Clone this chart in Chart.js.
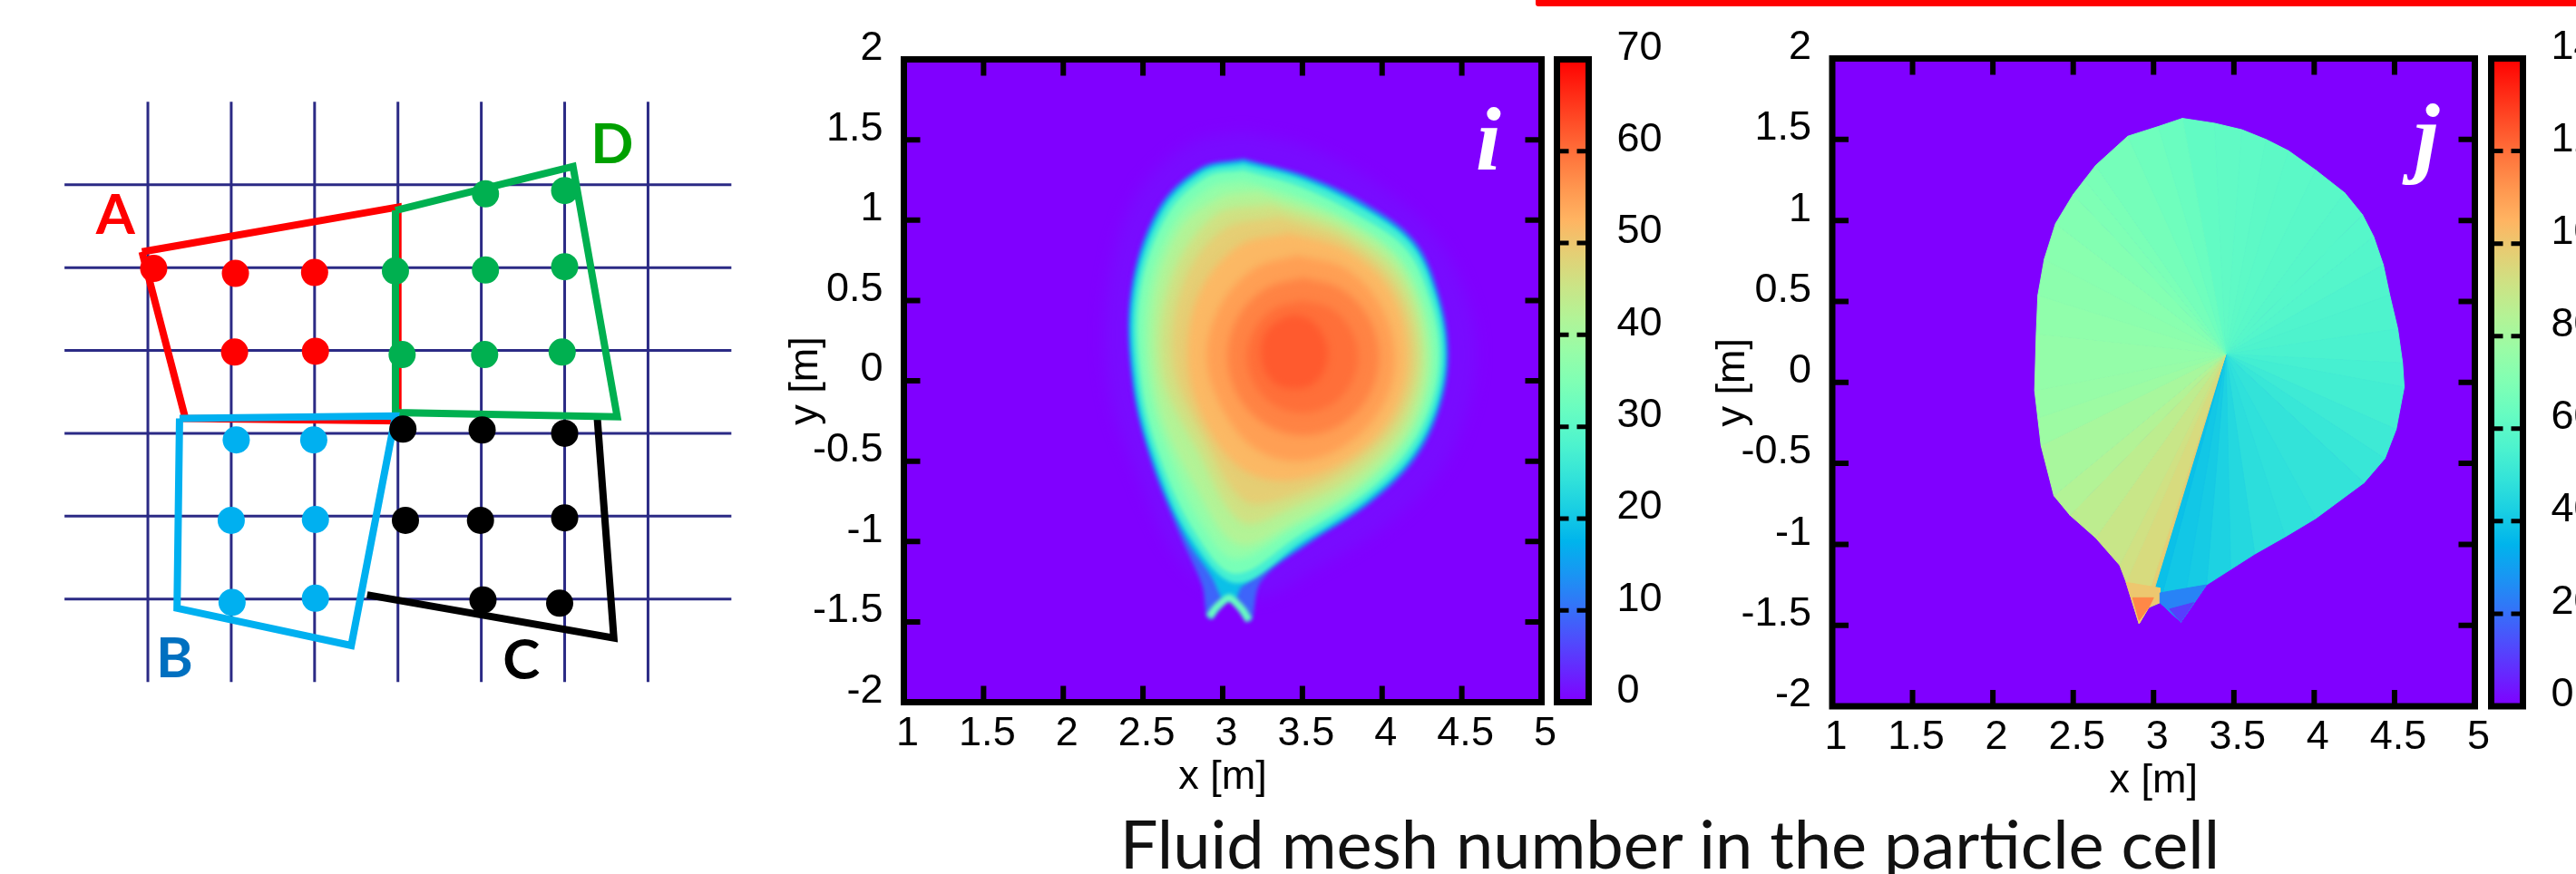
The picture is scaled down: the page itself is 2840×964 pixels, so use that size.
<!DOCTYPE html>
<html>
<head>
<meta charset="utf-8">
<title>Fluid mesh number in the particle cell</title>
<script src="https://cdn.jsdelivr.net/npm/chart.js@4"></script>
<style>
    html, body { margin: 0; width: 2840px; height: 964px; overflow: hidden; background: #fff; }
    canvas { position: absolute; }
    #redline { position: absolute; left: 1693px; top: -3px; width: 1200px; height: 10px; background: #ff0000; border-radius: 3px; }
    #caption { position: absolute; left: 1041px; width: 1600px; top: 885px; text-align: center; white-space: nowrap;
               font: 74px Lato, sans-serif; color: #111; }
</style>
</head>
<body>
<div id="redline"></div>
<canvas id="mesh" width="860" height="964" style="left:0;top:0"></canvas>
<canvas id="mapI" width="870" height="964" style="left:860px;top:0"></canvas>
<canvas id="barI" width="200" height="964" style="left:1700px;top:0"></canvas>
<canvas id="mapJ" width="870" height="964" style="left:1880px;top:0"></canvas>
<canvas id="barJ" width="200" height="964" style="left:2730px;top:0"></canvas>
<div id="caption">Fluid mesh number in the particle cell</div>

<script>
// --- schematic: grid units, one unit = one mesh spacing
const gridCols = [0, 1, 2, 3, 4, 5, 6];
const gridRows = [0, 1, 2, 3, 4, 5];
const redCell = [[-0.07, 0.81], [3.0, 0.27], [3.0, 2.85], [0.45, 2.82], [-0.07, 0.81]];
const greenCell = [[2.97, 0.31], [5.1, -0.22], [5.63, 2.8], [2.97, 2.75], [2.97, 0.31]];
const blueCell = [[0.38, 2.82], [2.97, 2.79], [2.44, 5.56], [0.35, 5.11], [0.38, 2.82]];
const blackCell = [[5.39, 2.8], [5.59, 5.47], [2.63, 4.95]];
const redDots = [[0.07, 1.01], [1.05, 1.07], [2.0, 1.06], [1.04, 2.02], [2.01, 2.01]];
const greenDots = [[2.97, 1.04], [4.05, 1.03], [5.0, 0.99], [4.05, 0.11], [5.0, 0.07], [3.05, 2.05], [4.04, 2.05], [4.97, 2.02]];
const blackDots = [[3.06, 2.95], [4.01, 2.96], [5.0, 3.0], [3.09, 4.05], [3.99, 4.05], [5.0, 4.02], [4.02, 5.01], [4.94, 5.05]];
const blueDots = [[1.06, 3.08], [1.99, 3.08], [1.0, 4.05], [2.01, 4.04], [1.01, 5.04], [2.01, 4.99]];
const cellNames = ['A', 'B', 'C', 'D'];
const cellNameSpots = [[-0.39, 0.38], [0.32, 5.73], [4.48, 5.75], [5.57, -0.48]];

// --- axes of the two maps
const xTicks = [1, 1.5, 2, 2.5, 3, 3.5, 4, 4.5, 5];
const yTicks = [-2, -1.5, -1, -0.5, 0, 0.5, 1, 1.5, 2];
const barTicksI = [0, 10, 20, 30, 40, 50, 60, 70];
const barTicksJ = [0, 20, 40, 60, 80, 100, 120, 140];

// --- map i: iso-contours, [x, y] in metres
const ringHalo = [[3.13, 1.55], [3.55, 1.45], [3.98, 1.22], [4.32, 0.92], [4.52, 0.55], [4.59, 0.18], [4.53, -0.2], [4.35, -0.58], [4.02, -0.9], [3.58, -1.17], [3.2, -1.35], [2.78, -1.18], [2.45, -0.55], [2.28, -0.02], [2.28, 0.6], [2.45, 1.15], [2.8, 1.48], [3.13, 1.55]];
const ring10 = [[3.13, 1.385], [3.52, 1.28], [3.91, 1.1], [4.21, 0.87], [4.36, 0.54], [4.42, 0.18], [4.37, -0.16], [4.21, -0.49], [3.92, -0.77], [3.52, -1.03], [3.24, -1.25], [3.17, -1.5], [3.04, -1.37], [2.915, -1.485], [2.87, -1.27], [2.74, -0.98], [2.55, -0.51], [2.43, -0.02], [2.42, 0.56], [2.59, 1.07], [2.86, 1.33], [3.13, 1.385]];
const ring20 = [[3.13, 1.37], [3.51, 1.265], [3.89, 1.085], [4.19, 0.86], [4.34, 0.535], [4.4, 0.18], [4.35, -0.155], [4.19, -0.48], [3.91, -0.755], [3.51, -1.015], [3.12, -1.28], [3.08, -1.36], [3.04, -1.355], [3.0, -1.36], [2.93, -1.22], [2.77, -0.98], [2.565, -0.505], [2.445, -0.02], [2.435, 0.555], [2.605, 1.06], [2.87, 1.315], [3.13, 1.37]];
const wingPath = [[2.915, -1.47], [2.96, -1.41], [3.04, -1.35], [3.12, -1.42], [3.165, -1.49]];
const ring28 = [[3.13, 1.35], [3.5, 1.25], [3.88, 1.07], [4.18, 0.85], [4.33, 0.53], [4.39, 0.18], [4.34, -0.15], [4.18, -0.47], [3.9, -0.74], [3.5, -1.0], [3.09, -1.26], [2.8, -0.98], [2.58, -0.5], [2.46, -0.02], [2.45, 0.55], [2.62, 1.05], [2.88, 1.3], [3.13, 1.35]];
const ring34 = [[3.13, 1.31], [3.48, 1.21], [3.85, 1.03], [4.15, 0.82], [4.3, 0.51], [4.36, 0.18], [4.31, -0.14], [4.15, -0.45], [3.87, -0.72], [3.47, -0.97], [3.08, -1.2], [2.83, -0.95], [2.61, -0.49], [2.49, -0.02], [2.48, 0.55], [2.65, 1.03], [2.9, 1.27], [3.13, 1.31]];
const ring38 = [[3.13, 1.25], [3.47, 1.15], [3.82, 0.98], [4.11, 0.77], [4.26, 0.49], [4.32, 0.18], [4.27, -0.13], [4.11, -0.42], [3.84, -0.68], [3.45, -0.92], [3.08, -1.11], [2.87, -0.9], [2.66, -0.47], [2.53, -0.02], [2.52, 0.54], [2.69, 0.99], [2.93, 1.21], [3.13, 1.25]];
const ring42 = [[3.22, 1.18], [3.78, 0.98], [4.13, 0.7], [4.29, 0.18], [4.19, -0.28], [3.87, -0.64], [3.45, -0.88], [3.1, -1.02], [2.84, -0.68], [2.6, -0.15], [2.56, 0.45], [2.72, 0.93], [2.98, 1.14], [3.22, 1.18]];
const ring46 = [[3.3, 1.1], [3.77, 0.93], [4.11, 0.65], [4.25, 0.18], [4.15, -0.25], [3.85, -0.58], [3.42, -0.8], [3.12, -0.88], [2.85, -0.45], [2.62, 0.05], [2.67, 0.62], [2.95, 1.03], [3.3, 1.1]];
const ring49 = [[3.35, 1.02], [3.76, 0.88], [4.08, 0.6], [4.21, 0.17], [4.11, -0.22], [3.82, -0.52], [3.42, -0.72], [3.14, -0.75], [2.88, -0.35], [2.69, 0.1], [2.75, 0.6], [3.0, 0.94], [3.35, 1.02]];
const ring52 = [[3.42, 0.92], [3.78, 0.81], [4.05, 0.56], [4.16, 0.17], [4.07, -0.2], [3.8, -0.48], [3.42, -0.62], [3.12, -0.55], [2.89, -0.26], [2.78, 0.12], [2.85, 0.54], [3.1, 0.84], [3.42, 0.92]];
const ring55 = [[3.47, 0.78], [3.77, 0.7], [3.99, 0.47], [4.08, 0.15], [4.0, -0.16], [3.77, -0.4], [3.47, -0.5], [3.2, -0.42], [3.0, -0.18], [2.9, 0.14], [2.98, 0.46], [3.2, 0.7], [3.47, 0.78]];
const ring58 = [[3.505, 0.64], [3.74, 0.574], [3.915, 0.395], [3.98, 0.15], [3.915, -0.095], [3.74, -0.274], [3.505, -0.34], [3.27, -0.274], [3.095, -0.095], [3.03, 0.15], [3.095, 0.395], [3.27, 0.574], [3.505, 0.64]];
const ring61 = [[3.5, 0.5], [3.675, 0.453], [3.8, 0.325], [3.85, 0.15], [3.8, -0.025], [3.675, -0.153], [3.5, -0.2], [3.325, -0.153], [3.2, -0.025], [3.15, 0.15], [3.2, 0.325], [3.325, 0.453], [3.5, 0.5]];
const ring63 = [[3.45, 0.41], [3.55, 0.38], [3.62, 0.3], [3.66, 0.18], [3.63, 0.05], [3.55, -0.03], [3.45, -0.05], [3.35, -0.03], [3.27, 0.05], [3.24, 0.18], [3.27, 0.3], [3.36, 0.38], [3.45, 0.41]];
const ringsI = [ringHalo, ring10, ring20, ring28, ring34, ring38, ring42, ring46, ring49, ring52, ring55, ring58, ring61, ring63];
const ringLevels = [1, 9, 19, 27, 34, 38, 42, 46, 49, 52, 55, 58, 60, 62];

// --- map j: fan around the centre, one value per rim segment
const fanCentre = [3.45, 0.175];
const fanRim = [[3.18, 1.63], [3.38, 1.6], [3.55, 1.56], [3.7, 1.5], [3.84, 1.43], [4.01, 1.31], [4.19, 1.17], [4.3, 1.036], [4.37, 0.9], [4.43, 0.726], [4.47, 0.54], [4.52, 0.33], [4.55, 0.12], [4.56, -0.03], [4.51, -0.29], [4.44, -0.47], [4.31, -0.62], [4.01, -0.84], [3.82, -0.953], [3.63, -1.06], [3.48, -1.155], [3.33, -1.25], [3.17, -1.48], [3.04, -1.36], [2.97, -1.39], [2.91, -1.49], [2.83, -1.235], [2.79, -1.13], [2.64, -0.96], [2.48, -0.82], [2.38, -0.7], [2.3, -0.39], [2.28, -0.22], [2.26, -0.05], [2.27, 0.3], [2.28, 0.537], [2.32, 0.76], [2.39, 0.98], [2.5, 1.16], [2.57, 1.25], [2.64, 1.34], [2.84, 1.52], [3.03, 1.58], [3.18, 1.63]];
const fanValues = [62, 61.5, 61, 60.5, 60, 59.5, 59, 58.5, 58, 57, 56.5, 55.5, 54.5, 53.5, 52, 50.5, 49, 48, 47, 45, 43, 41, 40, 38, 98, 94, 92, 90, 87, 84, 81, 78, 76.5, 75.5, 74.5, 73.5, 72.5, 71, 69.5, 68.5, 67, 65.5, 64];
const tipUpperLeft = [[2.83, -1.235], [3.04, -1.27], [3.04, -1.36], [2.97, -1.39], [2.91, -1.49], [2.83, -1.235]];
const tipUpperRight = [[3.04, -1.3], [3.33, -1.25], [3.17, -1.48], [3.04, -1.36], [3.04, -1.3]];
const tipLowerLeft = [[2.87, -1.33], [3.0, -1.33], [2.97, -1.39], [2.91, -1.47], [2.87, -1.33]];
const tipLowerRight = [[3.1, -1.4], [3.25, -1.36], [3.17, -1.48], [3.1, -1.4]];
const tipsJ = [tipUpperLeft, tipUpperRight, tipLowerLeft, tipLowerRight];
const tipValues = [100, 24, 115, 11];

// gnuplot "rainbow" palette (rgbformulae 33,13,10)
function palette(t) {
    const r = Math.min(1, Math.abs(2 * t - 0.5));
    const g = Math.sin(Math.PI * t);
    const b = Math.max(0, Math.cos(Math.PI * t / 2));
    return `rgb(${Math.round(r * 255)},${Math.round(g * 255)},${Math.round(b * 255)})`;
}

const points = list => list.map(p => ({ x: p[0], y: p[1] }));
const tickFont = { family: 'Liberation Sans', size: 45 };
Chart.defaults.animation = false;
Chart.defaults.color = '#000';
Chart.defaults.plugins.legend.display = false;
Chart.defaults.plugins.tooltip.enabled = false;

// --- schematic
function cellLine(list, color) {
    return { data: points(list), showLine: true, borderColor: color, borderWidth: 8, pointRadius: 0, fill: false };
}
function dotSet(list, color) {
    return { data: points(list), showLine: false, pointRadius: 15, pointBackgroundColor: color, pointBorderWidth: 0 };
}
const meshSets = [];
gridCols.forEach(c => meshSets.push({ data: [{ x: c, y: -1 }, { x: c, y: 6 }], showLine: true, borderColor: '#2b2a85', borderWidth: 3, pointRadius: 0 }));
gridRows.forEach(r => meshSets.push({ data: [{ x: -1, y: r }, { x: 7, y: r }], showLine: true, borderColor: '#2b2a85', borderWidth: 3, pointRadius: 0 }));
meshSets.push(cellLine(redCell, '#ff0000'), cellLine(blackCell, '#000000'), cellLine(greenCell, '#00b050'), cellLine(blueCell, '#00b0f0'));
meshSets.push(dotSet(redDots, '#ff0000'), dotSet(greenDots, '#00b050'), dotSet(blackDots, '#000000'), dotSet(blueDots, '#00b0f0'));
meshSets.forEach((d, i) => { d.order = meshSets.length - i; });

const cellNameColors = ['#ff0000', '#0070c0', '#000000', '#00a000'];
new Chart(document.getElementById('mesh'), {
    type: 'scatter',
    data: { datasets: meshSets },
    options: {
        responsive: false,
        layout: { padding: 0, autoPadding: false },
        scales: {
            x: { display: false, min: -1.774, max: 7.584 },
            y: { display: false, reverse: true, min: -2.229, max: 8.318 }
        }
    },
    plugins: [{
        id: 'cellNames',
        afterDraw(chart) {
            const { ctx, scales } = chart;
            ctx.save();
            ctx.font = 'bold 62px Lato';
            ctx.textAlign = 'center';
            ctx.textBaseline = 'middle';
            cellNames.forEach((name, i) => {
                ctx.fillStyle = cellNameColors[i];
                ctx.fillText(name, scales.x.getPixelForValue(cellNameSpots[i][0]), scales.y.getPixelForValue(cellNameSpots[i][1]));
            });
            ctx.restore();
        }
    }]
});

// --- frame, inward ticks and panel letter of a map
// blurFor gives the canvas filter per dataset index; the filler draws before
// our beforeDatasetDraw, so the filter for the next one is set after each draw
function mapPlugin(letter, letterX, letterY, blurFor) {
    return {
        id: 'mapDecor',
        beforeDatasetsDraw(chart) {
            const { ctx, chartArea: a } = chart;
            ctx.save();
            ctx.fillStyle = palette(0);
            ctx.fillRect(a.left, a.top, a.right - a.left, a.bottom - a.top);
            ctx.restore();
            ctx.filter = blurFor(0);
        },
        afterDatasetDraw(chart, args) {
            chart.ctx.filter = blurFor(args.index + 1);
        },
        afterDatasetsDraw(chart) {
            chart.ctx.filter = 'none';
        },
        afterDraw(chart) {
            const { ctx, chartArea: a, scales } = chart;
            ctx.save();
            ctx.strokeStyle = '#000';
            ctx.lineWidth = 6;
            ctx.beginPath();
            xTicks.slice(1, -1).forEach(v => {
                const p = scales.x.getPixelForValue(v);
                ctx.moveTo(p, a.top); ctx.lineTo(p, a.top + 18);
                ctx.moveTo(p, a.bottom); ctx.lineTo(p, a.bottom - 18);
            });
            yTicks.slice(1, -1).forEach(v => {
                const p = scales.y.getPixelForValue(v);
                ctx.moveTo(a.left, p); ctx.lineTo(a.left + 18, p);
                ctx.moveTo(a.right, p); ctx.lineTo(a.right - 18, p);
            });
            ctx.stroke();
            ctx.lineWidth = 7;
            ctx.strokeRect(a.left, a.top, a.right - a.left, a.bottom - a.top);
            ctx.fillStyle = '#fff';
            ctx.font = 'italic bold 100px "Liberation Serif"';
            ctx.textAlign = 'center';
            ctx.fillText(letter, scales.x.getPixelForValue(letterX), scales.y.getPixelForValue(letterY));
            ctx.restore();
        }
    };
}

function mapOptions(padding, yWidth, titlePad) {
    return {
        responsive: false,
        layout: { padding, autoPadding: false },
        scales: {
            x: {
                type: 'linear', min: 1, max: 5,
                afterBuildTicks: s => { s.ticks = xTicks.map(v => ({ value: v })); },
                afterFit: s => { s.height = 120; },
                grid: { display: false }, border: { display: false },
                ticks: { font: tickFont, padding: 0, labelOffset: 4, maxRotation: 0, autoSkip: false, callback: v => String(v) },
                title: { display: true, text: 'x [m]', font: tickFont, padding: { top: 0, bottom: 10 } }
            },
            y: {
                type: 'linear', min: -2, max: 2,
                afterBuildTicks: s => { s.ticks = yTicks.map(v => ({ value: v })); },
                afterFit: s => { s.width = yWidth; },
                grid: { display: false }, border: { display: false },
                ticks: { font: tickFont, padding: 15, labelOffset: -12, autoSkip: false, callback: v => String(v) },
                title: { display: true, text: 'y [m]', font: tickFont, padding: { top: titlePad, bottom: 0 } }
            }
        }
    };
}

// --- map i
const iSets = [];
ringsI.forEach((ring, i) => {
    if (ring === ring28) {
        iSets.push({ data: points(wingPath), showLine: true, borderColor: palette(32 / 70), borderWidth: 8, tension: 0.2, pointRadius: 0, fill: false });
    }
    const c = palette(ringLevels[i] / 70);
    iSets.push({ data: points(ring), showLine: true, fill: 'shape', backgroundColor: c, borderColor: c, borderWidth: 0, tension: 0.35, pointRadius: 0 });
});
iSets.forEach((d, i) => { d.order = iSets.length - i; });
const blurI = i => (i === 0 ? 'blur(8px)' : i < 6 ? 'blur(2px)' : 'blur(4px)');
new Chart(document.getElementById('mapI'), {
    type: 'scatter',
    data: { datasets: iSets },
    options: mapOptions({ left: 0, top: 65.5, right: 30.5, bottom: 69.5 }, 136.5, 2),
    plugins: [mapPlugin('i', 4.667, 1.315, blurI)]
});

// --- map j
const jSets = fanValues.map((v, i) => {
    const c = palette(v / 140);
    return { data: points([fanCentre, fanRim[i], fanRim[i + 1], fanCentre]), showLine: true, fill: 'shape', backgroundColor: c, borderColor: c, borderWidth: 1, pointRadius: 0 };
});
tipsJ.forEach((tip, i) => {
    const c = palette(tipValues[i] / 140);
    jSets.push({ data: points(tip), showLine: true, fill: 'shape', backgroundColor: c, borderColor: c, borderWidth: 1, pointRadius: 0 });
});
jSets.forEach((d, i) => { d.order = jSets.length - i; });
new Chart(document.getElementById('mapJ'), {
    type: 'scatter',
    data: { datasets: jSets },
    options: mapOptions({ left: 0, top: 64.5, right: 21.5, bottom: 65 }, 140, 4),
    plugins: [mapPlugin('j', 4.7, 1.337, () => 'blur(0.7px)')]
});

// --- colour bars
function colorBar(id, ticks, padTop, padBottom) {
    const top = ticks[ticks.length - 1];
    new Chart(document.getElementById(id), {
        type: 'bar',
        data: {
            labels: [''],
            datasets: [{
                data: [[0, top]],
                barPercentage: 1,
                categoryPercentage: 1,
                backgroundColor(context) {
                    const a = context.chart.chartArea;
                    if (!a) return palette(0);
                    const g = context.chart.ctx.createLinearGradient(0, a.bottom, 0, a.top);
                    for (let i = 0; i <= 20; i++) g.addColorStop(i / 20, palette(i / 20));
                    return g;
                }
            }]
        },
        options: {
            responsive: false,
            layout: { padding: { left: 16.5, top: padTop, right: 48.5, bottom: padBottom }, autoPadding: false },
            scales: {
                x: { display: false },
                y: {
                    position: 'right', min: 0, max: top,
                    afterBuildTicks: s => { s.ticks = ticks.map(v => ({ value: v })); },
                    afterFit: s => { s.width = 100; },
                    grid: { display: false }, border: { display: false },
                    ticks: { font: tickFont, padding: 23, labelOffset: -12, callback: v => String(v) }
                }
            }
        },
        plugins: [{
            id: 'barFrame',
            afterDraw(chart) {
                const { ctx, chartArea: a, scales } = chart;
                ctx.save();
                ctx.strokeStyle = '#000';
                ctx.lineWidth = 5;
                ctx.beginPath();
                ticks.slice(1, -1).forEach(v => {
                    const p = scales.y.getPixelForValue(v);
                    ctx.moveTo(a.left, p); ctx.lineTo(a.left + 13, p);
                    ctx.moveTo(a.right, p); ctx.lineTo(a.right - 13, p);
                });
                ctx.stroke();
                ctx.lineWidth = 7;
                ctx.strokeRect(a.left, a.top, a.right - a.left, a.bottom - a.top);
                ctx.restore();
            }
        }]
    });
}
colorBar('barI', barTicksI, 65.5, 189.5);
colorBar('barJ', barTicksJ, 64.5, 185);
</script>
</body>
</html>
